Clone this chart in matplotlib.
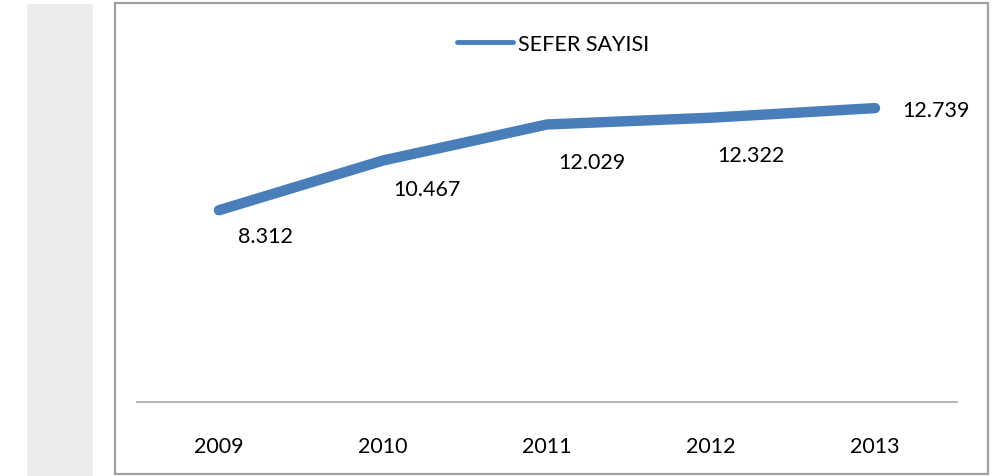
import matplotlib.pyplot as plt
from matplotlib.lines import Line2D
from matplotlib.patches import Rectangle

years = ["2009", "2010", "2011", "2012", "2013"]
sefer_sayisi = [8312, 10467, 12029, 12322, 12739]
value_labels = ["8.312", "10.467", "12.029", "12.322", "12.739"]

# label offsets in pixels (Excel-style placement)
label_offsets = [(46, -26), (44, -28), (45, -38), (40, -37), (61, -2)]

blue = "#4a7ebb"
W, H = 1002, 477

if __name__ == "__main__":
    plt.rcParams["font.family"] = ["Lato", "DejaVu Sans"]
    fig = plt.figure(figsize=(W / 100, H / 100), dpi=100)

    # grey band on the left and the chart frame
    fig.patches.append(Rectangle((27 / W, 0), 66 / W, 472 / H, transform=fig.transFigure,
                                 facecolor="#ececec", edgecolor="none", zorder=-2))
    fig.patches.append(Rectangle((115 / W, 2 / H), 873 / W, 471 / H, transform=fig.transFigure,
                                 facecolor="white", edgecolor="#a0a0a0", linewidth=1.6, zorder=-1))

    ax = fig.add_axes([137 / W, 74 / H, 820 / W, 323 / H])
    ax.set_zorder(2)
    ax.patch.set_visible(False)
    x = list(range(len(years)))
    ax.plot(x, sefer_sayisi, color=blue, linewidth=7.5, solid_capstyle="round",
            solid_joinstyle="round")

    for xi, yi, lab, off in zip(x, sefer_sayisi, value_labels, label_offsets):
        ax.annotate(lab, (xi, yi), xytext=off, textcoords="offset pixels",
                    ha="center", va="center", fontsize=15.5, color="black")

    ax.set_xlim(-0.5, 4.5)
    ax.set_ylim(0, 14000)
    ax.set_xticks(x)
    ax.set_xticklabels(years, fontsize=15.5)
    ax.set_yticks([])
    ax.tick_params(axis="x", length=0, pad=24.5)
    for s in ["top", "left", "right"]:
        ax.spines[s].set_visible(False)
    ax.spines["bottom"].set_color("#a6a6a6")
    ax.spines["bottom"].set_linewidth(1.2)

    handle = Line2D([], [], color=blue, linewidth=3.5, solid_capstyle="round")
    ax.legend([handle], ["SEFER SAYISI"], loc="center", frameon=False,
              bbox_to_anchor=(553 / W, 1 - 45 / H), bbox_transform=fig.transFigure,
              fontsize=15.5, handlelength=2.6, handletextpad=0.25)

    fig.savefig("out.png", dpi=100)
